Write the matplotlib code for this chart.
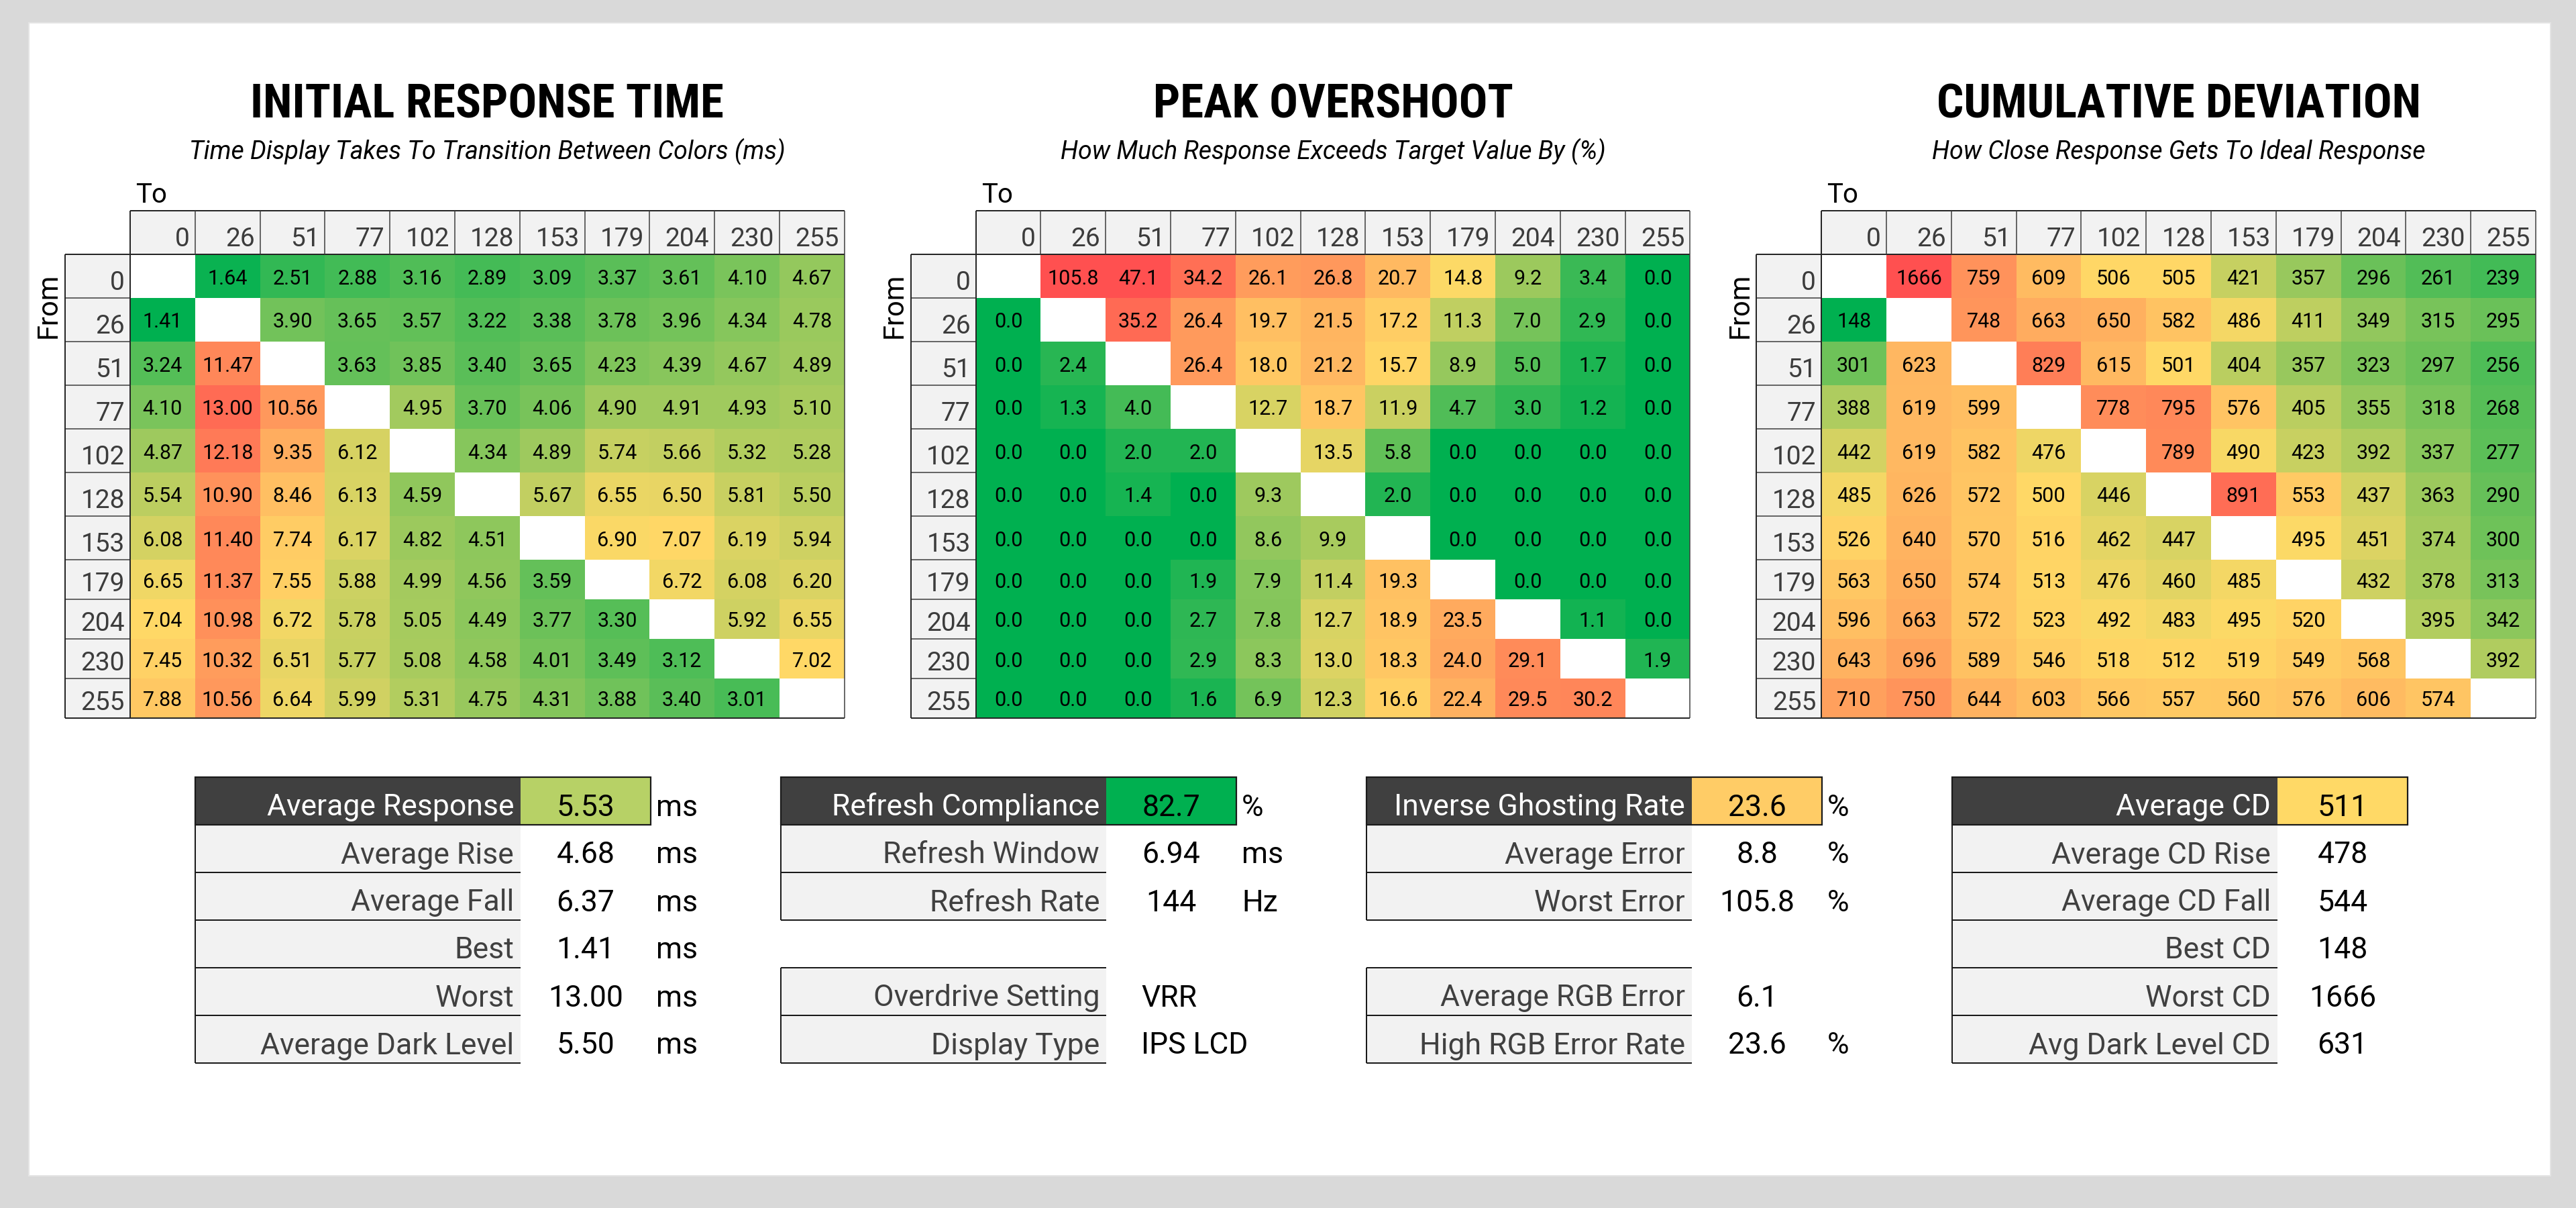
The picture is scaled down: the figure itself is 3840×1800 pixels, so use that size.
import numpy as np
import matplotlib
matplotlib.use("Agg")
import matplotlib.pyplot as plt
from matplotlib.patches import Rectangle
from matplotlib.colors import LinearSegmentedColormap, TwoSlopeNorm
from matplotlib import font_manager as fm

# ---------------- data ----------------
levels = [0, 26, 51, 77, 102, 128, 153, 179, 204, 230, 255]
nan = np.nan

response_time = [
    [nan, 1.64, 2.51, 2.88, 3.16, 2.89, 3.09, 3.37, 3.61, 4.10, 4.67],
    [1.41, nan, 3.90, 3.65, 3.57, 3.22, 3.38, 3.78, 3.96, 4.34, 4.78],
    [3.24, 11.47, nan, 3.63, 3.85, 3.40, 3.65, 4.23, 4.39, 4.67, 4.89],
    [4.10, 13.00, 10.56, nan, 4.95, 3.70, 4.06, 4.90, 4.91, 4.93, 5.10],
    [4.87, 12.18, 9.35, 6.12, nan, 4.34, 4.89, 5.74, 5.66, 5.32, 5.28],
    [5.54, 10.90, 8.46, 6.13, 4.59, nan, 5.67, 6.55, 6.50, 5.81, 5.50],
    [6.08, 11.40, 7.74, 6.17, 4.82, 4.51, nan, 6.90, 7.07, 6.19, 5.94],
    [6.65, 11.37, 7.55, 5.88, 4.99, 4.56, 3.59, nan, 6.72, 6.08, 6.20],
    [7.04, 10.98, 6.72, 5.78, 5.05, 4.49, 3.77, 3.30, nan, 5.92, 6.55],
    [7.45, 10.32, 6.51, 5.77, 5.08, 4.58, 4.01, 3.49, 3.12, nan, 7.02],
    [7.88, 10.56, 6.64, 5.99, 5.31, 4.75, 4.31, 3.88, 3.40, 3.01, nan],
]

overshoot = [
    [nan, 105.8, 47.1, 34.2, 26.1, 26.8, 20.7, 14.8, 9.2, 3.4, 0.0],
    [0.0, nan, 35.2, 26.4, 19.7, 21.5, 17.2, 11.3, 7.0, 2.9, 0.0],
    [0.0, 2.4, nan, 26.4, 18.0, 21.2, 15.7, 8.9, 5.0, 1.7, 0.0],
    [0.0, 1.3, 4.0, nan, 12.7, 18.7, 11.9, 4.7, 3.0, 1.2, 0.0],
    [0.0, 0.0, 2.0, 2.0, nan, 13.5, 5.8, 0.0, 0.0, 0.0, 0.0],
    [0.0, 0.0, 1.4, 0.0, 9.3, nan, 2.0, 0.0, 0.0, 0.0, 0.0],
    [0.0, 0.0, 0.0, 0.0, 8.6, 9.9, nan, 0.0, 0.0, 0.0, 0.0],
    [0.0, 0.0, 0.0, 1.9, 7.9, 11.4, 19.3, nan, 0.0, 0.0, 0.0],
    [0.0, 0.0, 0.0, 2.7, 7.8, 12.7, 18.9, 23.5, nan, 1.1, 0.0],
    [0.0, 0.0, 0.0, 2.9, 8.3, 13.0, 18.3, 24.0, 29.1, nan, 1.9],
    [0.0, 0.0, 0.0, 1.6, 6.9, 12.3, 16.6, 22.4, 29.5, 30.2, nan],
]

cum_dev = [
    [nan, 1666, 759, 609, 506, 505, 421, 357, 296, 261, 239],
    [148, nan, 748, 663, 650, 582, 486, 411, 349, 315, 295],
    [301, 623, nan, 829, 615, 501, 404, 357, 323, 297, 256],
    [388, 619, 599, nan, 778, 795, 576, 405, 355, 318, 268],
    [442, 619, 582, 476, nan, 789, 490, 423, 392, 337, 277],
    [485, 626, 572, 500, 446, nan, 891, 553, 437, 363, 290],
    [526, 640, 570, 516, 462, 447, nan, 495, 451, 374, 300],
    [563, 650, 574, 513, 476, 460, 485, nan, 432, 378, 313],
    [596, 663, 572, 523, 492, 483, 495, 520, nan, 395, 342],
    [643, 696, 589, 546, 518, 512, 519, 549, 568, nan, 392],
    [710, 750, 644, 603, 566, 557, 560, 576, 606, 574, nan],
]

titles = ["INITIAL RESPONSE TIME", "PEAK OVERSHOOT", "CUMULATIVE DEVIATION"]
subtitles = ["Time Display Takes To Transition Between Colors (ms)",
             "How Much Response Exceeds Target Value By (%)",
             "How Close Response Gets To Ideal Response"]

t1_labels = ["Average Response", "Average Rise", "Average Fall", "Best", "Worst", "Average Dark Level"]
t1_values = ["5.53", "4.68", "6.37", "1.41", "13.00", "5.50"]
t1_units = ["ms", "ms", "ms", "ms", "ms", "ms"]

t2_labels = ["Refresh Compliance", "Refresh Window", "Refresh Rate", "", "Overdrive Setting", "Display Type"]
t2_values = ["82.7", "6.94", "144", "", "VRR", "IPS LCD"]
t2_units = ["%", "ms", "Hz", "", "", ""]

t3_labels = ["Inverse Ghosting Rate", "Average Error", "Worst Error", "", "Average RGB Error", "High RGB Error Rate"]
t3_values = ["23.6", "8.8", "105.8", "", "6.1", "23.6"]
t3_units = ["%", "%", "%", "", "", "%"]

t4_labels = ["Average CD", "Average CD Rise", "Average CD Fall", "Best CD", "Worst CD", "Avg Dark Level CD"]
t4_values = ["511", "478", "544", "148", "1666", "631"]
t4_units = ["", "", "", "", "", ""]

# ---------------- style / layout ----------------
def first_available(cands, default):
    for c in cands:
        try:
            fm.findfont(fm.FontProperties(family=c), fallback_to_default=False)
            return c
        except Exception:
            pass
    return default

BASE = first_available(["Roboto", "Lato", "DejaVu Sans"], "DejaVu Sans")
COND = first_available(["Roboto Condensed", "Liberation Sans Narrow", "DejaVu Sans Condensed"], None)
if COND is None:
    COND, TITLE_SIZE = BASE, 45
else:
    TITLE_SIZE = 51

plt.rcParams["font.family"] = [BASE, "DejaVu Sans"]

W, H = 3840, 1800
fig = plt.figure(figsize=(W / 100, H / 100), dpi=100, facecolor="#d9d9d9")
ax = fig.add_axes([0, 0, 1, 1])
ax.set_xlim(0, W)
ax.set_ylim(H, 0)
ax.axis("off")

PX = 0.72  # px -> pt
LINE = "#262626"

ax.add_patch(Rectangle((43, 34), 3802 - 43, 1752 - 34, facecolor="white",
                       edgecolor="#e4e4e4", lw=2 * PX, zorder=0))


def hline(x0, x1, y, lw=2.0, color=LINE):
    ax.plot([x0, x1], [y, y], color=color, lw=lw * PX, solid_capstyle="butt", zorder=5)


def vline(x, y0, y1, lw=2.0, color=LINE):
    ax.plot([x, x], [y0, y1], color=color, lw=lw * PX, solid_capstyle="butt", zorder=5)


cmap = LinearSegmentedColormap.from_list("gyr", ["#00b050", "#ffd966", "#ff5050"]).with_extremes(bad="white")

HM_LEFT = [97, 1357.6, 2618.2]
LABEL_W = 97
COL_W = 96.8
HEAD_TOP = 314
ROW_H = [65] * 7 + [59] * 4
ROW_EDGES = np.concatenate([[379], 379 + np.cumsum(ROW_H)])


def draw_heatmap(k, data, fmt, vmin, vcenter, vmax):
    lx = HM_LEFT[k]
    dx0 = lx + LABEL_W
    xe = dx0 + np.arange(len(levels) + 1) * COL_W
    ye = ROW_EDGES
    arr = np.ma.masked_invalid(np.array(data, dtype=float))
    ax.add_patch(Rectangle((dx0, HEAD_TOP), xe[-1] - dx0, ye[0] - HEAD_TOP, facecolor="#f2f2f2", edgecolor="none", zorder=1))
    ax.add_patch(Rectangle((lx, ye[0]), LABEL_W, ye[-1] - ye[0], facecolor="#f2f2f2", edgecolor="none", zorder=1))
    norm = TwoSlopeNorm(vcenter=vcenter, vmin=vmin, vmax=vmax)
    ax.pcolormesh(xe, ye, arr, cmap=cmap, norm=norm, edgecolors="none", antialiased=False, zorder=2)
    hline(dx0, xe[-1], HEAD_TOP)
    hline(lx, xe[-1], ye[0])
    hline(lx, xe[-1], ye[-1])
    for j in range(1, len(levels)):
        vline(xe[j], HEAD_TOP, ye[0], lw=1.5, color="#3a3a3a")
        hline(lx, dx0, ye[j], lw=1.5, color="#3a3a3a")
    vline(dx0, HEAD_TOP, ye[-1])
    vline(xe[-1], HEAD_TOP, ye[-1], lw=1.5, color="#3a3a3a")
    vline(lx, ye[0], ye[-1])
    for j, lev in enumerate(levels):
        ax.text(xe[j + 1] - 8, ye[0] - 12, str(lev), ha="right", va="baseline",
                fontsize=28, color="#3c3c3c", zorder=6)
        ax.text(dx0 - 8, ye[j + 1] - 12, str(lev), ha="right", va="baseline",
                fontsize=28, color="#3c3c3c", zorder=6)
    for i in range(len(levels)):
        for j in range(len(levels)):
            v = data[i][j]
            if np.isnan(v):
                continue
            ax.text((xe[j] + xe[j + 1]) / 2, (ye[i] + ye[i + 1]) / 2 + 12, fmt(v),
                    ha="center", va="baseline", fontsize=22, color="black", zorder=6)
    ax.text(dx0 + 8, 302, "To", ha="left", va="baseline", fontsize=29, color="black")
    ax.text(lx - 13, 504, "From", rotation=90, rotation_mode="anchor", ha="left",
            va="baseline", fontsize=30, color="black")
    cx = (dx0 + xe[-1]) / 2
    ax.text(cx, 175, titles[k], ha="center", va="baseline", fontsize=TITLE_SIZE,
            family=[COND, "DejaVu Sans"], weight="bold", color="black")
    ax.text(cx, 237, subtitles[k], ha="center", va="baseline", fontsize=27,
            style="italic", color="black")


draw_heatmap(0, response_time, lambda v: f"{v:.2f}", 1.4, 7.0, 14.5)
draw_heatmap(1, overshoot, lambda v: f"{v:.1f}", 0.0, 15.0, 40.0)
draw_heatmap(2, cum_dev, lambda v: f"{v:.0f}", 148, 500, 1000)

TB_LEFT = [291, 1164, 2037, 2910]
LBL_W = 485
VAL_W = 194
TB_TOP = 1158
TB_ROW = 71


def is_number(s):
    try:
        float(s)
        return True
    except ValueError:
        return False


def draw_table(k, labels, values, units, head_color):
    x0 = TB_LEFT[k]
    for i, lab in enumerate(labels):
        if not lab:
            continue
        y0 = TB_TOP + i * TB_ROW
        y1 = y0 + TB_ROW
        base = y1 - 13.5
        if i == 0:
            ax.add_patch(Rectangle((x0, y0), LBL_W, TB_ROW, facecolor="#404040", edgecolor="none", zorder=1))
            ax.add_patch(Rectangle((x0 + LBL_W, y0), VAL_W, TB_ROW, facecolor=head_color, edgecolor="none", zorder=1))
            ax.add_patch(Rectangle((x0, y0), LBL_W + VAL_W, TB_ROW, fill=False, edgecolor="#1a1a1a", lw=2.2 * PX, zorder=5))
            tcol = "white"
        else:
            ax.add_patch(Rectangle((x0, y0), LBL_W, TB_ROW, facecolor="#f2f2f2", edgecolor="none", zorder=1))
            hline(x0, x0 + LBL_W, y0, color="#1a1a1a")
            hline(x0, x0 + LBL_W, y1, color="#1a1a1a")
            vline(x0, y0, y1, color="#1a1a1a")
            tcol = "#404040"
        ax.text(x0 + LBL_W - 10, base, lab, ha="right", va="baseline", fontsize=32, color=tcol, zorder=6)
        val = values[i]
        if is_number(val):
            ax.text(x0 + LBL_W + VAL_W / 2, base, val, ha="center", va="baseline", fontsize=32, color="black", zorder=6)
        else:
            ax.text(x0 + LBL_W + 52, base, val, ha="left", va="baseline", fontsize=32, color="black", zorder=6)
        if units[i]:
            ax.text(x0 + LBL_W + VAL_W + 8, base, units[i], ha="left", va="baseline", fontsize=32, color="black", zorder=6)


draw_table(0, t1_labels, t1_values, t1_units, "#b7d166")
draw_table(1, t2_labels, t2_values, t2_units, "#00b050")
draw_table(2, t3_labels, t3_values, t3_units, "#ffcc66")
draw_table(3, t4_labels, t4_values, t4_units, "#ffd966")

fig.savefig("out.png", dpi=100, facecolor=fig.get_facecolor())
